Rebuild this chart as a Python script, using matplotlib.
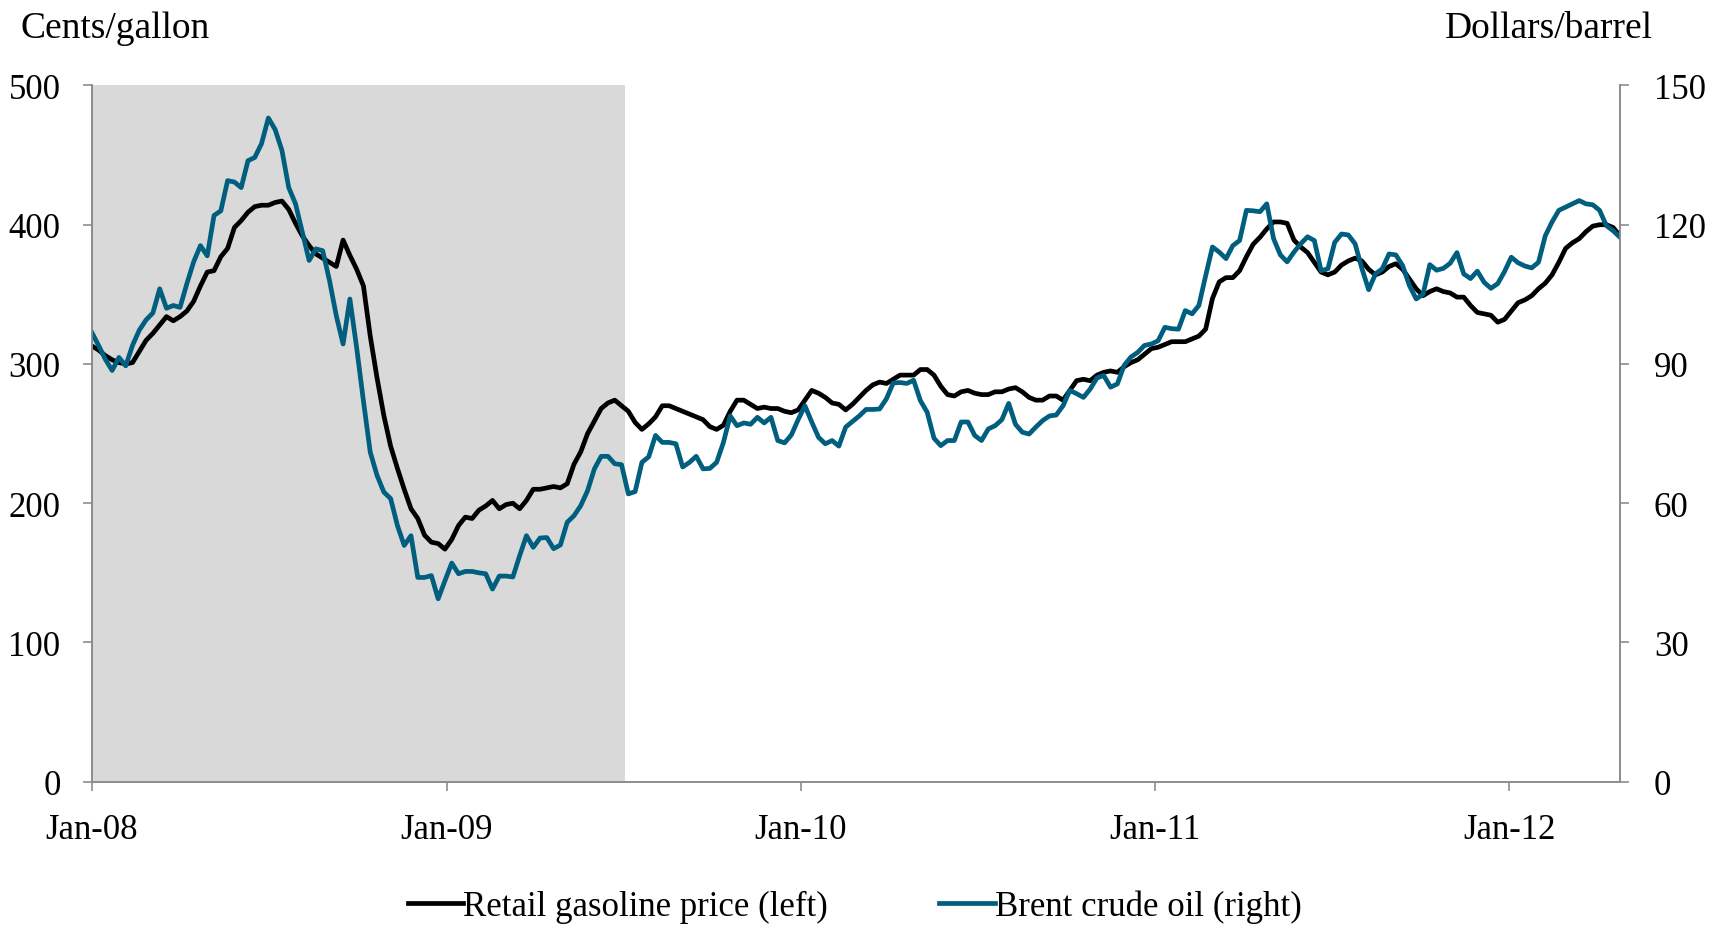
import matplotlib
matplotlib.use('Agg')
import pandas as pd
import matplotlib.pyplot as plt
import matplotlib.dates as mdates

plt.rcParams['font.family'] = ['Liberation Serif', 'DejaVu Serif']
plt.rcParams['font.size'] = 25

# weekly observations, Jan 2008 - Apr 2012
weeks = pd.date_range('2008-01-01', periods=226, freq='7D')

# retail gasoline, cents/gallon (left axis)
gasoline = [
    313, 310, 306, 303, 301, 300, 301, 309, 317, 322,
    328, 334, 331, 334, 338, 345, 356, 366, 367, 377,
    383, 398, 403, 409, 413, 414, 414, 416, 417, 411,
    401, 392, 385, 379, 376, 373, 370, 389, 378, 368,
    356, 320, 290, 263, 241, 225, 210, 196, 189, 177,
    172, 171, 167, 174, 184, 190, 189, 195, 198, 202,
    196, 199, 200, 196, 202, 210, 210, 211, 212, 211,
    214, 228, 237, 250, 259, 268, 272, 274, 270, 266,
    258, 253, 257, 262, 270, 270, 268, 266, 264, 262,
    260, 255, 253, 256, 266, 274, 274, 271, 268, 269,
    268, 268, 266, 265, 267, 274, 281, 279, 276, 272,
    271, 267, 271, 276, 281, 285, 287, 286, 289, 292,
    292, 292, 296, 296, 292, 284, 278, 277, 280, 281,
    279, 278, 278, 280, 280, 282, 283, 280, 276, 274,
    274, 277, 277, 274, 281, 288, 289, 288, 292, 294,
    295, 294, 298, 301, 303, 307, 311, 312, 314, 316,
    316, 316, 318, 320, 325, 347, 359, 362, 362, 367,
    377, 386, 391, 397, 402, 402, 401, 389, 384, 380,
    373, 366, 364, 366, 371, 374, 376, 374, 368, 364,
    366, 370, 372, 368, 361, 354, 349, 352, 354, 352,
    351, 348, 348, 342, 337, 336, 335, 330, 332, 338,
    344, 346, 349, 354, 358, 364, 373, 383, 387, 390,
    395, 399, 400, 400, 398, 392,
]

# Brent crude, dollars/barrel (right axis)
brent = [
    96.8, 94.0, 91.0, 88.6, 91.4, 89.6, 94.0, 97.3, 99.5, 101.0,
    106.2, 102.0, 102.6, 102.2, 107.3, 112.0, 115.5, 113.3, 122.0, 123.0,
    129.5, 129.2, 128.0, 133.8, 134.5, 137.5, 143.0, 140.5, 136.0, 128.0,
    124.5, 118.4, 112.3, 114.8, 114.4, 108.0, 100.4, 94.3, 104.0, 93.5,
    82.0, 71.0, 66.0, 62.4, 61.0, 55.2, 50.9, 53.0, 44.0, 44.0,
    44.4, 39.4, 43.3, 47.1, 44.8, 45.3, 45.3, 45.0, 44.8, 41.5,
    44.3, 44.3, 44.1, 48.7, 53.0, 50.5, 52.5, 52.6, 50.2, 51.0,
    55.9, 57.3, 59.5, 62.7, 67.4, 70.1, 70.1, 68.5, 68.3, 62.0,
    62.5, 68.8, 70.0, 74.6, 73.1, 73.1, 72.8, 67.8, 68.8, 70.1,
    67.4, 67.5, 68.8, 73.1, 78.8, 76.7, 77.3, 77.0, 78.5, 77.3,
    78.5, 73.5, 73.0, 74.7, 78.0, 81.0, 77.5, 74.2, 72.8, 73.5,
    72.3, 76.4, 77.6, 78.8, 80.2, 80.2, 80.3, 82.5, 85.9, 86.0,
    85.8, 86.5, 82.1, 79.6, 74.0, 72.4, 73.5, 73.5, 77.5, 77.5,
    74.6, 73.5, 76.0, 76.7, 78.0, 81.5, 77.0, 75.3, 74.9, 76.4,
    77.8, 78.8, 79.0, 81.0, 84.3, 83.6, 82.8, 84.6, 87.0, 87.5,
    85.0, 85.7, 89.7, 91.5, 92.5, 94.0, 94.3, 95.0, 97.9, 97.6,
    97.5, 101.5, 100.8, 102.6, 109.0, 115.2, 114.1, 112.7, 115.5, 116.6,
    123.1, 123.0, 122.8, 124.5, 117.0, 113.5, 112.0, 114.1, 115.9, 117.4,
    116.6, 110.1, 110.5, 116.2, 118.0, 117.8, 115.9, 110.6, 106.0, 109.4,
    110.5, 113.7, 113.5, 111.2, 106.9, 104.0, 105.0, 111.4, 110.2, 110.6,
    111.7, 114.0, 109.4, 108.4, 110.0, 107.6, 106.3, 107.3, 109.9, 113.0,
    111.8, 111.1, 110.7, 111.9, 117.6, 120.6, 123.1, 123.8, 124.5, 125.2,
    124.5, 124.3, 123.1, 119.8, 118.7, 117.3,
]

recession = ('2007-12-01', '2009-07-04')
left_ticks = [0, 100, 200, 300, 400, 500]
right_ticks = [0, 30, 60, 90, 120, 150]
year_ticks = pd.to_datetime(['2008-01-01', '2009-01-01', '2010-01-01',
                             '2011-01-01', '2012-01-01'])

spine_col = '#8C8C8C'
blue = '#005E7E'

fig = plt.figure(figsize=(17.09, 9.28), dpi=100)
ax = fig.add_axes([0.0537, 0.1566, 0.8942, 0.7502])
ax2 = ax.twinx()

ax.axvspan(pd.Timestamp(recession[0]), pd.Timestamp(recession[1]),
           color='#D9D9D9', lw=0, zorder=0)
l1, = ax.plot(weeks, gasoline, color='black', lw=3.4)
l2, = ax2.plot(weeks, brent, color=blue, lw=3.4)

ax.set_xlim(weeks[0], weeks[-1])
ax.set_ylim(0, 500)
ax2.set_ylim(0, 150)
ax.set_yticks(left_ticks)
ax2.set_yticks(right_ticks)
ax.set_xticks(year_ticks)
ax.xaxis.set_major_formatter(mdates.DateFormatter('%b-%y'))

for a in (ax, ax2):
    a.spines['top'].set_visible(False)
    for s in ('left', 'right', 'bottom'):
        a.spines[s].set_color(spine_col)
        a.spines[s].set_linewidth(1.2)
    a.tick_params(axis='both', direction='out', length=6.5, width=1.2,
                  color=spine_col, labelcolor='black')
ax.tick_params(axis='y', pad=16)
ax2.tick_params(axis='y', pad=18)
ax.tick_params(axis='x', pad=16)

fig.text(20 / 1709, 1 - 29 / 928, 'Cents/gallon', ha='left', va='center',
         fontsize=27)
fig.text(1653 / 1709, 1 - 29 / 928, 'Dollars/barrel', ha='right', va='center',
         fontsize=27)

fig.legend([l1, l2], ['Retail gasoline price (left)', 'Brent crude oil (right)'],
           loc='center', bbox_to_anchor=(0.5, 1 - 907 / 928), ncol=2,
           frameon=False, handlelength=1.6, handletextpad=0.0,
           columnspacing=3.2)

fig.savefig('out.png', dpi=100)
